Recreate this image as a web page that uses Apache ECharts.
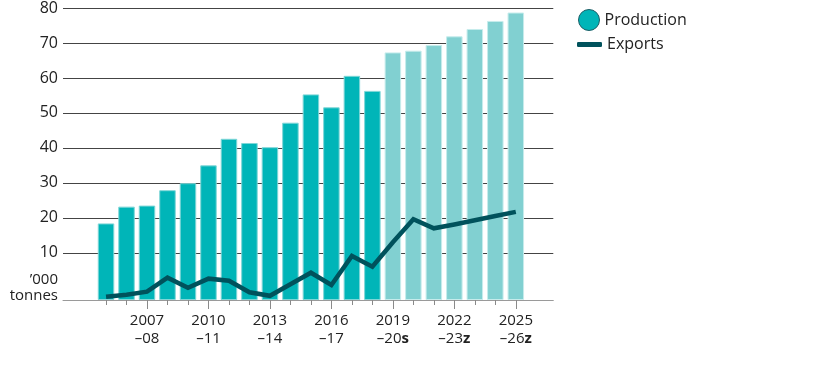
<!DOCTYPE html>
<html><head><meta charset="utf-8">
<script src="https://cdn.jsdelivr.net/npm/echarts@6/dist/echarts.min.js"></script>
<style>html,body{margin:0;padding:0;background:#fff}#c{width:816px;height:366px}</style>
</head><body><div id="c"></div>
<script>
const years = ['2005–06','2006–07','2007–08','2008–09','2009–10','2010–11','2011–12','2012–13','2013–14','2014–15','2015–16','2016–17','2017–18','2018–19','2019–20','2020–21','2021–22','2022–23','2023–24','2024–25','2025–26'];
const status = ['','','','','','','','','','','','','','','s','z','z','z','z','z','z'];
const production = [18.4,23.2,23.5,27.9,29.9,35.0,42.6,41.4,40.2,47.2,55.3,51.6,60.6,56.3,67.3,67.8,69.4,71.9,74.0,76.3,78.7];
const exportsData = [-2.6,-2.0,-1.1,2.9,0.0,2.6,2.0,-1.3,-2.3,1.0,4.3,0.8,9.1,6.0,13.0,19.6,17.0,18.1,19.3,20.5,21.7];
const tickLabels = ['2007–08','2010–11','2013–14','2016–17','2019–20','2022–23','2025–26'];
const yTicks = [10,20,30,40,50,60,70,80];
const yUnit = '’000\ntonnes';

const FONT = '"Open Sans", "Noto Sans", sans-serif';
const TXT = '#222';
const x = years.map(y => parseInt(y, 10));
const labelX = tickLabels.map(y => parseInt(y, 10));

const chart = echarts.init(document.getElementById('c'), null, {renderer: 'canvas'});
chart.setOption({
  animation: false,
  backgroundColor: '#fff',
  grid: {left: 63, right: 262.7, top: 7.3, bottom: 66, containLabel: false},
  legend: [
    {data: [{name: 'Production', icon: 'circle'}], left: 578, top: 9, padding: 0, itemWidth: 21, itemHeight: 21,
     itemStyle: {color: '#00b5b8', borderColor: '#1d5e66', borderWidth: 1},
     textStyle: {fontFamily: FONT, fontSize: 16, color: TXT}},
    {data: [{name: 'Exports', icon: 'roundRect'}], left: 577, top: 36.5, padding: 0, itemWidth: 25, itemHeight: 5,
     itemStyle: {color: '#00525c'},
     textStyle: {fontFamily: FONT, fontSize: 16, color: TXT}}
  ],
  xAxis: [
    {type: 'value', min: 2002.9, max: 2026.83, position: 'bottom',
     axisLine: {show: true, onZero: false, lineStyle: {color: '#9a9a9a', width: 1}},
     axisTick: {show: true, customValues: x, length: 5, lineStyle: {color: '#8a8a8a'}},
     splitLine: {show: false},
     axisLabel: {show: true, customValues: labelX, margin: 12, interval: 0,
       formatter: function (v) {
         const i = x.indexOf(Math.round(v));
         if (i < 0) return '';
         const parts = years[i].split('–');
         const s = status[i];
         return '{a|' + parts[0] + '}\n{a|–' + parts[1] + '}' + (s ? '{b|' + s + '}' : '');
       },
       rich: {
         a: {fontFamily: FONT, fontSize: 15, color: TXT, lineHeight: 18},
         b: {fontFamily: FONT, fontSize: 15, color: TXT, fontWeight: 'bold', lineHeight: 18}
       }}},
    {type: 'value', min: 2002.9, max: 2026.83, position: 'bottom',
     axisLine: {show: false, onZero: false},
     axisTick: {show: true, customValues: labelX, length: 9, lineStyle: {color: '#8a8a8a'}},
     splitLine: {show: false},
     axisLabel: {show: false}}
  ],
  yAxis: {
    type: 'value', min: -3.5, max: 80, startValue: -3.5,
    axisLine: {show: false}, axisTick: {show: false, customValues: yTicks},
    splitLine: {show: true, lineStyle: {color: '#444', width: 1}},
    axisLabel: {customValues: yTicks, margin: 5, fontFamily: FONT, fontSize: 16, color: TXT},
    name: yUnit, nameLocation: 'start', nameGap: 4,
    nameTextStyle: {fontFamily: FONT, fontSize: 15, color: TXT, align: 'right', verticalAlign: 'bottom', lineHeight: 16, padding: [0, 5, 0, 0]}
  },
  series: [
    {name: 'Production', type: 'bar', xAxisIndex: 0, barWidth: 16.5,
     itemStyle: {color: '#00b5b8'},
     data: production.map((v, i) => ({
       value: [x[i], v],
       itemStyle: status[i] ? {color: '#81d0d1', borderColor: '#c6ecec', borderWidth: 1}
                            : {color: '#00b5b8', borderColor: '#7fd6d7', borderWidth: 1}
     }))},
    {name: 'Exports', type: 'line', xAxisIndex: 0, symbol: 'none', z: 5,
     lineStyle: {color: '#00525c', width: 4.5, join: 'miter'},
     itemStyle: {color: '#00525c'},
     data: exportsData.map((v, i) => [x[i], v])}
  ]
});
</script></body></html>
